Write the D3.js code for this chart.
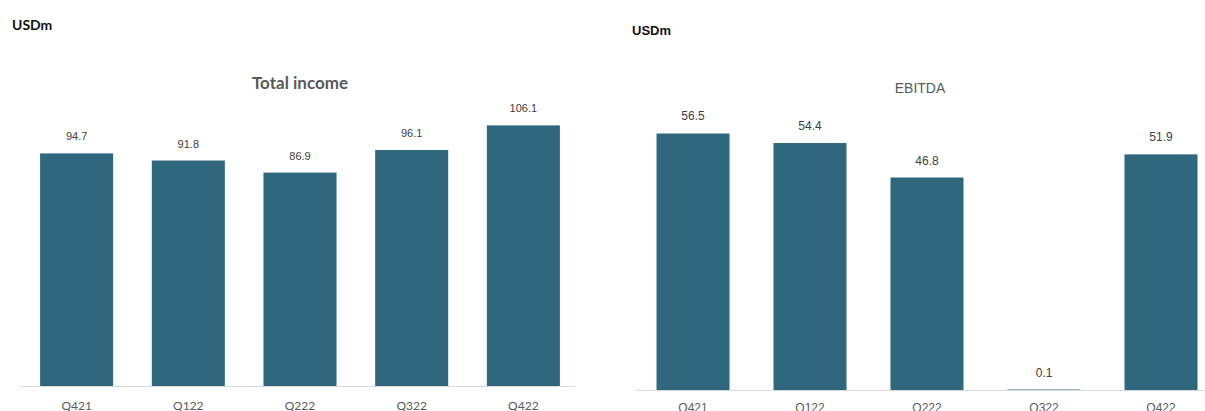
<!DOCTYPE html>
<html>
<head>
<meta charset="utf-8">
<script src="https://cdn.jsdelivr.net/npm/d3@7"></script>
<style>
  body { margin: 0; background: #fff; }
  svg { display: block; }
</style>
</head>
<body>
<div id="chart"></div>
<script>
const quarters = ["Q421", "Q122", "Q222", "Q322", "Q422"];
const totalIncome = [94.7, 91.8, 86.9, 96.1, 106.1];
const ebitda = [56.5, 54.4, 46.8, 0.1, 51.9];

const width = 1205, height = 411;
const barColor = "#2e677e";

const svg = d3.select("#chart")
    .append("svg")
    .attr("width", width)
    .attr("height", height);

function drawPanel(opts) {
    const data = quarters.map((q, i) => ({ q, v: opts.values[i] }));

    const x = d3.scaleBand()
        .domain(quarters)
        .range(opts.xRange)
        .paddingInner(opts.padIn)
        .paddingOuter(opts.padOut);

    const y = d3.scaleLinear()
        .domain([0, opts.yMax])
        .range([opts.base, opts.base - opts.yMax * opts.pxPerUnit]);

    const g = svg.append("g");

    // unit label
    g.append("text")
        .attr("x", opts.unitX)
        .attr("y", opts.unitY)
        .style("font-family", opts.unitFont)
        .style("font-weight", "bold")
        .style("font-size", opts.unitSize)
        .style("fill", "#111")
        .text("USDm");

    // title
    g.append("text")
        .attr("x", opts.titleX)
        .attr("y", opts.titleY)
        .style("text-anchor", "middle")
        .style("font-family", opts.titleFont)
        .style("font-weight", opts.titleWeight)
        .style("font-size", opts.titleSize)
        .style("fill", "#595959")
        .text(opts.title);

    g.selectAll("rect")
        .data(data)
        .enter().append("rect")
        .attr("x", d => x(d.q))
        .attr("y", d => y(d.v))
        .attr("width", x.bandwidth())
        .attr("height", d => y(0) - y(d.v))
        .attr("fill", barColor);

    // baseline
    g.append("line")
        .attr("x1", opts.lineX[0])
        .attr("x2", opts.lineX[1])
        .attr("y1", y(0) + 0.5)
        .attr("y2", y(0) + 0.5)
        .attr("stroke", "#d9d9d9")
        .attr("stroke-width", 1);

    // value labels
    g.selectAll(".val")
        .data(data)
        .enter().append("text")
        .attr("class", "val")
        .attr("x", d => x(d.q) + x.bandwidth() / 2)
        .attr("y", d => y(d.v) - 13)
        .style("text-anchor", "middle")
        .style("font-family", "'Liberation Sans', Arial, sans-serif")
        .style("font-size", opts.valSize)
        .style("fill", "#404040")
        .text(d => d.v.toFixed(1));

    // category labels
    const axis = g.append("g")
        .attr("transform", `translate(0,${y(0)})`)
        .call(d3.axisBottom(x).tickSize(0).tickPadding(opts.tickPad));
    axis.select(".domain").remove();
    axis.selectAll("text")
        .style("font-family", opts.tickFont)
        .style("font-size", "12px")
        .style("fill", "#595959");
}

drawPanel({
    values: totalIncome,
    xRange: [20, 580], padIn: 0.346, padOut: 0.18,
    base: 386, yMax: 110, pxPerUnit: 2.456,
    lineX: [20, 575],
    unitX: 12, unitY: 30, unitSize: "14px", unitFont: "Lato, 'Open Sans', sans-serif",
    title: "Total income", titleX: 300, titleY: 89,
    titleFont: "Lato, 'Open Sans', sans-serif", titleWeight: "bold", titleSize: "17px",
    valSize: "11px", tickPad: 15,
    tickFont: "Lato, sans-serif"
});

drawPanel({
    values: ebitda,
    xRange: [642, 1212], padIn: 0.376, padOut: 0.124,
    base: 390, yMax: 60, pxPerUnit: 4.54,
    lineX: [635, 1205],
    unitX: 632, unitY: 35, unitSize: "13px", unitFont: "'Liberation Sans Narrow', 'Liberation Sans', sans-serif",
    title: "EBITDA", titleX: 920, titleY: 93,
    titleFont: "'Liberation Sans', Arial, sans-serif", titleWeight: "normal", titleSize: "14px",
    valSize: "12px", tickPad: 13,
    tickFont: "'Liberation Sans', Arial, sans-serif"
});
</script>
</body>
</html>
